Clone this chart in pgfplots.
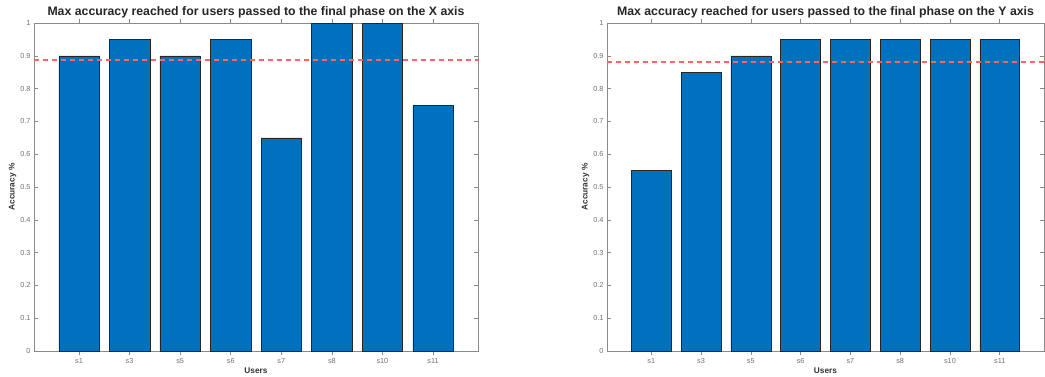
\documentclass[border=0pt]{standalone}
\usepackage{pgfplots}
\pgfplotsset{compat=1.18}
\usepackage{fontspec}
\setmainfont{Liberation Sans}
\definecolor{mbar}{HTML}{0072BD}
\definecolor{axc}{HTML}{8A8A8A}
\definecolor{tkc}{HTML}{707070}
\definecolor{mred}{HTML}{FF6464}
\pgfplotsset{
  mystyle/.style={
    scale only axis,
    anchor=south west,
    height=328pt,
    xmin=0.11, xmax=8.89,
    ymin=0, ymax=1,
    xtick={1,...,8},
    xticklabels={s1,s3,s5,s6,s7,s8,s10,s11},
    ytick={0,0.1,0.2,0.3,0.4,0.5,0.6,0.7,0.8,0.9,1},
    yticklabels={0,0.1,0.2,0.3,0.4,0.5,0.6,0.7,0.8,0.9,1},
    tick align=inside,
    xtick pos=both, ytick pos=both,
    major tick length=4pt,
    axis line style={axc, line width=0.6pt},
    every tick/.style={axc, line width=0.6pt},
    tick label style={font=\fontsize{7.3}{8}\selectfont, text=tkc},
    title style={font=\bfseries\fontsize{12.3}{13}\selectfont, text=black!85, yshift=-5pt},
    xlabel style={font=\bfseries\fontsize{8.3}{9}\selectfont, text=black!80, yshift=3pt},
    ylabel style={font=\bfseries\fontsize{8.3}{9}\selectfont, text=black!80, yshift=-3pt},
    xlabel={Users},
    ylabel={Accuracy \%},
    ybar, bar width=0.8, bar shift=0pt,
  }
}
\begin{document}
\begin{tikzpicture}
\path[use as bounding box] (0,0) rectangle (1045pt,376pt);
\begin{axis}[mystyle, at={(34pt,25pt)}, width=444pt,
  title={Max accuracy reached for users passed to the final phase on the X axis}]
\addplot[fill=mbar, draw=black!85, line width=0.5pt, bar width=0.8] coordinates {
(1,0.90) (2,0.95) (3,0.90) (4,0.95) (5,0.65) (6,1.00) (7,1.00) (8,0.75)};
\addplot[sharp plot, mred, line width=1.4pt, dash pattern=on 5pt off 4pt, forget plot] coordinates {(0.11,0.8875) (8.89,0.8875)};
\end{axis}
\begin{axis}[mystyle, at={(607pt,25pt)}, width=437pt,
  title={Max accuracy reached for users passed to the final phase on the Y axis}]
\addplot[fill=mbar, draw=black!85, line width=0.5pt, bar width=0.8] coordinates {
(1,0.55) (2,0.85) (3,0.90) (4,0.95) (5,0.95) (6,0.95) (7,0.95) (8,0.95)};
\addplot[sharp plot, mred, line width=1.4pt, dash pattern=on 5pt off 4pt, forget plot] coordinates {(0.11,0.88125) (8.89,0.88125)};
\end{axis}
\end{tikzpicture}
\end{document}
